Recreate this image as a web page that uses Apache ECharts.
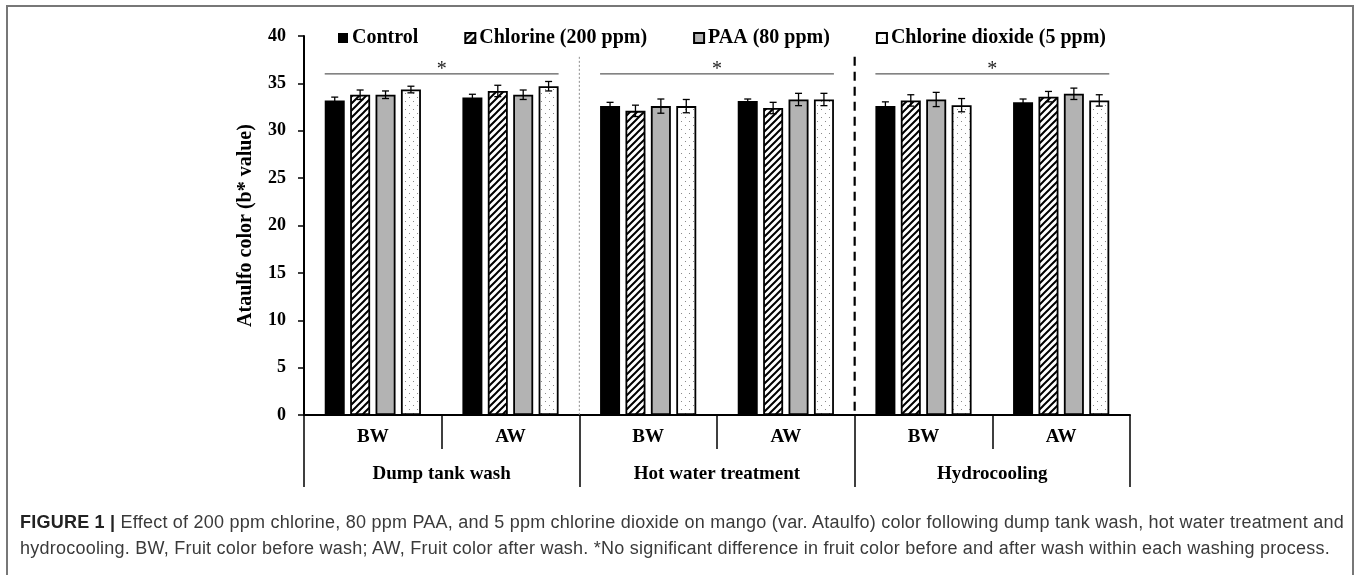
<!DOCTYPE html>
<html>
<head>
<meta charset="utf-8">
<script src="https://cdn.jsdelivr.net/npm/echarts@6/dist/echarts.min.js"></script>
<style>
  html, body { margin:0; padding:0; background:#fff; }
  #frame { position:absolute; left:6px; top:5px; width:1348px; height:640px; border:2px solid #777; box-sizing:border-box; }
  #chart { position:absolute; left:0; top:0; width:1358px; height:575px; }
  #caption { position:absolute; left:20px; top:509px; font-family:'Liberation Sans', Arial, sans-serif; font-size:18px; line-height:26px; color:#3a3a3a; white-space:nowrap; }
  #caption b { color:#222; }
  #caption span { display:inline-block; }
</style>
</head>
<body>
<div id="frame"></div>
<div id="chart"></div>
<div id="caption"><span id="cap1"><b>FIGURE 1 |</b> Effect of 200 ppm chlorine, 80 ppm PAA, and 5 ppm chlorine dioxide on mango (var. Ataulfo) color following dump tank wash, hot water treatment and</span><br><span id="cap2">hydrocooling. BW, Fruit color before wash; AW, Fruit color after wash. *No significant difference in fruit color before and after wash within each washing process.</span></div>
<script>
// ---- data ----
const categories = ['BW', 'AW', 'BW', 'AW', 'BW', 'AW'];
const groups = ['Dump tank wash', 'Hot water treatment', 'Hydrocooling'];
const seriesNames = ['Control', 'Chlorine (200 ppm)', 'PAA (80 ppm)', 'Chlorine dioxide (5 ppm)'];
const control    = [33.2, 33.5, 32.6, 33.15, 32.6, 33.0];
const chlorine   = [33.8, 34.2, 32.1, 32.4, 33.2, 33.6];
const paa        = [33.8, 33.8, 32.6, 33.3, 33.3, 33.9];
const clo2       = [34.35, 34.7, 32.6, 33.3, 32.7, 33.2];
const controlErr  = [0.35, 0.35, 0.4, 0.2, 0.45, 0.35];
const chlorineErr = [0.5, 0.6, 0.6, 0.6, 0.6, 0.55];
const paaErr      = [0.4, 0.5, 0.75, 0.65, 0.75, 0.6];
const clo2Err     = [0.35, 0.5, 0.7, 0.65, 0.7, 0.6];
const yTicks = [0, 5, 10, 15, 20, 25, 30, 35, 40];
const sigStart = [0, 2, 4];          // first category of each bracketed group
const sigLevel = [36.0, 36.0, 36.0]; // bracket height (b* units)
const sigLabel = ['*', '*', '*'];
const separators = [1, 3];           // separator after this category index
const separatorTop = 37.8;

// ---- caption fitting (letter spacing so line 1 spans the frame width) ----
(function fitCaption() {
  const c1 = document.getElementById('cap1'), c2 = document.getElementById('cap2');
  const target = 1324;
  const w = c1.getBoundingClientRect().width;
  const n = c1.textContent.length;
  const ls = (target - w) / n;
  c1.style.letterSpacing = ls + 'px';
  c2.style.letterSpacing = ls + 'px';
})();

// ---- styles ----
const SERIF = "'Liberation Serif', 'Times New Roman', serif";
const BAR_W = 20, BAR_GAP = 0.27;
const STEP = BAR_W * (1 + BAR_GAP);

function hatch() {
  const s = 7, c = document.createElement('canvas');
  c.width = s; c.height = s;
  const g = c.getContext('2d');
  g.fillStyle = '#fff'; g.fillRect(0, 0, s, s);
  g.strokeStyle = '#000'; g.lineWidth = 2;
  g.beginPath();
  g.moveTo(0, s); g.lineTo(s, 0);
  g.moveTo(-1, 1); g.lineTo(1, -1);
  g.moveTo(s - 1, s + 1); g.lineTo(s + 1, s - 1);
  g.stroke();
  return { image: c, repeat: 'repeat' };
}
function dots() {
  const s = 8, c = document.createElement('canvas');
  c.width = s; c.height = s;
  const g = c.getContext('2d');
  g.fillStyle = '#fff'; g.fillRect(0, 0, s, s);
  g.fillStyle = '#8a8a8a';
  g.fillRect(1, 1, 1, 1); g.fillRect(5, 5, 1, 1);
  return { image: c, repeat: 'repeat' };
}
const fills = ['#000', hatch(), '#b3b3b3', dots()];
const values = [control, chlorine, paa, clo2];
const errs = [controlErr, chlorineErr, paaErr, clo2Err];

const series = [];
values.forEach((vals, k) => {
  series.push({
    name: seriesNames[k], type: 'bar', data: vals,
    barWidth: BAR_W, barGap: (BAR_GAP * 100) + '%',
    itemStyle: { color: fills[k], borderColor: '#000', borderWidth: k === 0 ? 0 : 1.8 },
    emphasis: { disabled: true }, z: 2
  });
});
values.forEach((vals, k) => {
  series.push({
    type: 'custom', z: 5, silent: true,
    data: vals.map((v, i) => [i, v, errs[k][i]]),
    renderItem: (params, api) => {
      const i = api.value(0), v = api.value(1), e = api.value(2);
      const cx = api.coord([i, v])[0] + (k - 1.5) * STEP;
      const hi = api.coord([i, v + e])[1], lo = api.coord([i, v - e])[1];
      const st = { stroke: '#000', lineWidth: 1.3 };
      return { type: 'group', children: [
        { type: 'line', shape: { x1: cx, y1: hi, x2: cx, y2: lo }, style: st },
        { type: 'line', shape: { x1: cx - 3.5, y1: hi, x2: cx + 3.5, y2: hi }, style: st },
        { type: 'line', shape: { x1: cx - 3.5, y1: lo, x2: cx + 3.5, y2: lo }, style: st }
      ] };
    }
  });
});
// significance brackets
series.push({
  type: 'custom', z: 5, silent: true,
  data: sigStart.map((s, j) => [s, sigLevel[j], sigLabel[j]]),
  renderItem: (params, api) => {
    const i = api.value(0), y = api.value(1);
    const half = 1.5 * STEP + BAR_W / 2;
    const p1 = api.coord([i, y]), p2 = api.coord([i + 1, y]);
    const x1 = p1[0] - half, x2 = p2[0] + half;
    return { type: 'group', children: [
      { type: 'line', shape: { x1, y1: p1[1], x2, y2: p1[1] }, style: { stroke: '#333', lineWidth: 1 } },
      { type: 'text', style: { text: sigLabel[params.dataIndex], x: (x1 + x2) / 2, y: p1[1] - 4,
        align: 'center', verticalAlign: 'middle', font: "20px " + SERIF, fill: '#222' } }
    ] };
  }
});
// group separators
series.push({
  type: 'custom', z: 4, silent: true,
  data: separators.map(i => [i, separatorTop]),
  renderItem: (params, api) => {
    const i = api.value(0);
    const bw = api.size([1, 0])[0];
    const top = api.coord([i, api.value(1)]), bot = api.coord([i, 0]);
    const x = top[0] + bw / 2;
    const dotted = params.dataIndex === 0;
    return { type: 'line', shape: { x1: x, y1: top[1], x2: x, y2: bot[1] },
      style: dotted ? { stroke: '#8c8c8c', lineWidth: 1, lineDash: [2, 2] }
                    : { stroke: '#000', lineWidth: 2.2, lineDash: [9, 6] } };
  }
});

const chart = echarts.init(document.getElementById('chart'), null, { renderer: 'canvas' });
chart.setOption({
  animation: false,
  grid: { left: 304, right: 228, top: 36, bottom: 160 },
  legend: {
    data: seriesNames, left: 333, top: 23, itemWidth: 10, itemHeight: 10, itemGap: 46,
    icon: 'rect',
    textStyle: { fontFamily: SERIF, fontWeight: 'bold', fontSize: 20, color: '#000', padding: [0, 0, 0, -1] }
  },
  xAxis: [
    { type: 'category', data: categories, position: 'bottom',
      axisLine: { lineStyle: { color: '#000', width: 2 } },
      axisTick: { show: true, length: 34, lineStyle: { color: '#000', width: 1.5 } },
      axisLabel: { margin: 13, fontFamily: SERIF, fontWeight: 'bold', fontSize: 19, color: '#000' } },
    { type: 'category', data: groups, position: 'bottom',
      axisLine: { show: false },
      axisTick: { show: true, length: 72, lineStyle: { color: '#000', width: 1.5 } },
      axisLabel: { margin: 50, fontFamily: SERIF, fontWeight: 'bold', fontSize: 19, color: '#000' } }
  ],
  yAxis: {
    type: 'value', min: yTicks[0], max: yTicks[yTicks.length - 1], interval: yTicks[1] - yTicks[0],
    name: 'Ataulfo color (b* value)', nameLocation: 'middle', nameGap: 48,
    nameTextStyle: { fontFamily: SERIF, fontWeight: 'bold', fontSize: 20, color: '#000' },
    axisLine: { show: true, lineStyle: { color: '#000', width: 2 } },
    axisTick: { show: true, length: 6, lineStyle: { color: '#000', width: 1.5 } },
    axisLabel: { margin: 18, fontFamily: SERIF, fontWeight: 'bold', fontSize: 18, color: '#000' },
    splitLine: { show: false }
  },
  series
});
</script>
</body>
</html>
